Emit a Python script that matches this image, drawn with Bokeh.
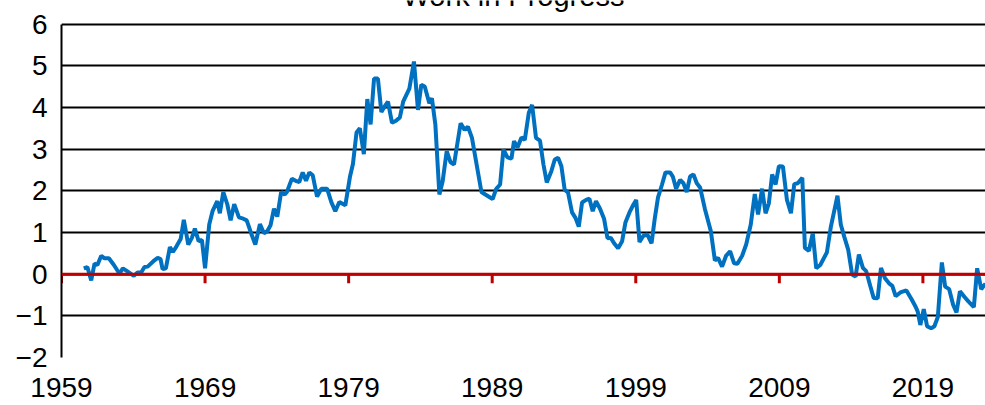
from bokeh.plotting import figure
from bokeh.models import FixedTicker, Span, Label
from bokeh.embed import file_html
from bokeh.resources import INLINE
import math

# Work in progress series (decimal year, value)
years = [
    1960.55, 1960.8, 1961.07, 1961.3, 1961.5, 1961.77, 1962.0, 1962.3, 1962.65, 1963.04,
    1963.27, 1963.57, 1964.04, 1964.3, 1964.55, 1964.78, 1965.0, 1965.4, 1965.7, 1965.9,
    1966.04, 1966.27, 1966.55, 1966.76, 1967.0, 1967.3, 1967.52, 1967.83, 1968.08, 1968.29,
    1968.55, 1968.78, 1969.0, 1969.29, 1969.52, 1969.85, 1970.03, 1970.27, 1970.55, 1970.78,
    1971.03, 1971.36, 1971.66, 1971.9, 1972.22, 1972.5, 1972.82, 1973.1, 1973.33, 1973.56,
    1973.8, 1974.03, 1974.3, 1974.55, 1974.7, 1975.05, 1975.37, 1975.56, 1975.8, 1976.03,
    1976.26, 1976.5, 1976.8, 1977.1, 1977.5, 1977.8, 1978.07, 1978.35, 1978.77, 1979.1,
    1979.3, 1979.55, 1979.78, 1980.06, 1980.3, 1980.53, 1980.77, 1981.04, 1981.28, 1981.56,
    1981.74, 1982.02, 1982.3, 1982.57, 1982.8, 1983.23, 1983.55, 1983.83, 1984.06, 1984.3,
    1984.62, 1984.8, 1985.04, 1985.32, 1985.55, 1985.83, 1986.1, 1986.34, 1986.8, 1987.08,
    1987.31, 1987.59, 1988.25, 1988.52, 1988.8, 1989.03, 1989.27, 1989.55, 1989.78, 1990.06,
    1990.34, 1990.52, 1990.76, 1991.04, 1991.27, 1991.55, 1991.78, 1992.05, 1992.33, 1992.57,
    1992.8, 1993.12, 1993.36, 1993.59, 1993.82, 1994.05, 1994.28, 1994.56, 1994.8, 1995.03,
    1995.26, 1995.54, 1995.77, 1996.0, 1996.23, 1996.51, 1996.79, 1997.03, 1997.26, 1997.49,
    1997.77, 1998.05, 1998.28, 1998.56, 1998.84, 1999.03, 1999.26, 1999.53, 1999.81, 2000.1,
    2000.33, 2000.55, 2000.83, 2001.07, 2001.39, 2001.58, 2001.81, 2002.09, 2002.32, 2002.55,
    2002.78, 2003.02, 2003.25, 2003.48, 2003.81, 2004.23, 2004.51, 2004.73, 2005.01, 2005.29,
    2005.57, 2005.85, 2006.08, 2006.41, 2006.69, 2007.01, 2007.29, 2007.52, 2007.8, 2008.04,
    2008.27, 2008.5, 2008.74, 2008.97, 2009.25, 2009.53, 2009.81, 2010.04, 2010.28, 2010.6,
    2010.78, 2011.06, 2011.33, 2011.57, 2011.85, 2012.31, 2012.59, 2013.05, 2013.28, 2013.52,
    2013.8, 2014.07, 2014.31, 2014.54, 2014.82, 2015.05, 2015.33, 2015.57, 2015.85, 2016.08,
    2016.36, 2016.64, 2016.87, 2017.1, 2017.43, 2017.85, 2018.22, 2018.5, 2018.64, 2018.82,
    2019.06, 2019.29, 2019.57, 2019.8, 2020.04, 2020.32, 2020.55, 2020.83, 2021.11, 2021.34,
    2021.58, 2021.9, 2022.18, 2022.55, 2022.78, 2023.06, 2023.36,
]
values = [
    0.14, 0.17, -0.15, 0.25, 0.22, 0.44, 0.38, 0.38, 0.22, 0.01,
    0.14, 0.07, -0.04, 0.04, 0.04, 0.17, 0.18, 0.31, 0.39, 0.36,
    0.12, 0.14, 0.65, 0.53, 0.66, 0.84, 1.30, 0.71, 0.87, 1.09,
    0.79, 0.82, 0.14, 1.19, 1.51, 1.75, 1.46, 1.97, 1.67, 1.29,
    1.68, 1.36, 1.33, 1.29, 0.97, 0.71, 1.20, 0.98, 1.03, 1.17,
    1.57, 1.38, 1.97, 1.91, 1.97, 2.29, 2.23, 2.21, 2.44, 2.24,
    2.44, 2.37, 1.86, 2.05, 2.05, 1.72, 1.51, 1.73, 1.65, 2.35,
    2.64, 3.40, 3.50, 2.88, 4.20, 3.59, 4.69, 4.69, 3.89, 4.05,
    4.14, 3.63, 3.68, 3.76, 4.14, 4.45, 5.10, 3.94, 4.54, 4.50,
    4.10, 4.22, 3.59, 1.91, 2.23, 2.95, 2.68, 2.63, 3.62, 3.46,
    3.54, 3.27, 1.97, 1.91, 1.85, 1.80, 2.04, 2.15, 2.99, 2.80,
    2.77, 3.19, 3.04, 3.28, 3.22, 3.87, 4.06, 3.27, 3.20, 2.63,
    2.20, 2.47, 2.75, 2.79, 2.59, 2.02, 1.96, 1.48, 1.35, 1.14,
    1.72, 1.78, 1.81, 1.51, 1.75, 1.57, 1.33, 0.86, 0.87, 0.74,
    0.62, 0.79, 1.24, 1.48, 1.67, 1.78, 0.77, 0.92, 0.95, 0.74,
    1.35, 1.84, 2.15, 2.44, 2.44, 2.34, 2.05, 2.26, 2.18, 1.97,
    2.34, 2.39, 2.18, 2.08, 1.57, 1.03, 0.33, 0.39, 0.18, 0.44,
    0.55, 0.26, 0.25, 0.44, 0.71, 1.19, 1.92, 1.43, 2.05, 1.46,
    1.70, 2.39, 2.15, 2.59, 2.58, 1.78, 1.46, 2.16, 2.18, 2.31,
    0.63, 0.56, 0.98, 0.14, 0.22, 0.52, 1.14, 1.88, 1.19, 0.90,
    0.58, -0.01, -0.06, 0.47, 0.15, 0.07, -0.28, -0.57, -0.58, 0.15,
    -0.10, -0.22, -0.28, -0.53, -0.44, -0.39, -0.61, -0.79, -0.90, -1.22,
    -0.84, -1.25, -1.30, -1.25, -1.03, 0.28, -0.30, -0.36, -0.74, -0.92,
    -0.41, -0.55, -0.66, -0.79, 0.14, -0.36, -0.23,
]

x_ticks = [1959, 1969, 1979, 1989, 1999, 2009, 2019]
y_ticks = [-2, -1, 0, 1, 2, 3, 4, 5, 6]
title_text = "Work in Progress"

FONT = "Liberation Sans"
x_start, x_end = 1959, 2023.36
y_min, y_max = -2, 6
# head room above the top gridline, where the title sits
y_top = 6.564

p = figure(width=985, height=405, x_range=(x_start, x_end), y_range=(y_min, y_top),
           output_backend="svg", toolbar_location=None,
           min_border_left=61, min_border_right=0, min_border_top=0,
           min_border_bottom=48)
p.outline_line_color = None
p.background_fill_color = "white"
p.border_fill_color = "white"

# y axis: labels only, black axis line, horizontal black grid
p.yaxis.ticker = FixedTicker(ticks=y_ticks)
p.yaxis.bounds = (y_min, y_max)
p.yaxis.major_tick_line_color = None
p.yaxis.minor_tick_line_color = None
p.yaxis.major_tick_out = 0
p.yaxis.major_label_standoff = 14
p.yaxis.axis_line_color = "black"
p.yaxis.axis_line_width = 2
p.yaxis.major_label_text_font = FONT
p.yaxis.major_label_text_font_size = "28px"
p.yaxis.major_label_text_color = "black"

p.ygrid.ticker = FixedTicker(ticks=y_ticks)
p.ygrid.grid_line_color = "black"
p.ygrid.grid_line_width = 2
p.xgrid.grid_line_color = None

# x axis: labels at the bottom, no line or ticks there
p.xaxis.ticker = FixedTicker(ticks=x_ticks)
p.xaxis.axis_line_color = None
p.xaxis.major_tick_line_color = None
p.xaxis.minor_tick_line_color = None
p.xaxis.major_tick_out = 0
p.xaxis.major_label_standoff = 20
p.xaxis.major_label_text_line_height = 0.8
p.xaxis.major_label_text_font = FONT
p.xaxis.major_label_text_font_size = "28px"
p.xaxis.major_label_text_color = "black"

# red zero line with downward tick marks
p.add_layout(Span(location=0, dimension="width", line_color="#C00000", line_width=3))
p.ray(x=x_ticks, y=[0] * len(x_ticks), length=9, length_units="screen",
      angle=-math.pi / 2, line_color="#C00000", line_width=3)

p.line(years, values, line_color="#0070C0", line_width=4)

# chart title, mostly above the top edge of the page
p.add_layout(Label(x=(x_start + x_end) / 2 - 0.7, y=6.67, text=title_text,
                   text_font=FONT, text_font_size="29px", text_align="center",
                   text_baseline="alphabetic", text_color="black"))

open("out.html", "w").write(file_html(p, INLINE))
